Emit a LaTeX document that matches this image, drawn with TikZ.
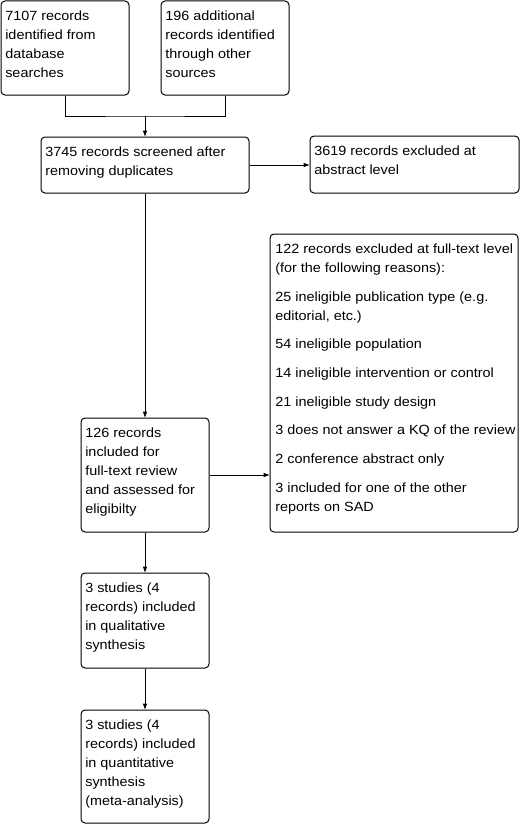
\documentclass[tikz,border=0pt]{standalone}
\usepackage{fontspec}
\setmainfont{Liberation Sans}[FakeStretch=1.08]
\usetikzlibrary{fit,arrows.meta}
\begin{document}
\begin{tikzpicture}[x=0.75pt,y=-0.75pt,
  box/.style={draw, line width=0.75pt, rounded corners=3pt, inner sep=0pt},
  txt/.style={anchor=north west, inner sep=0pt, align=left,
    font=\fontsize{10pt}{14.3pt}\selectfont},
  ln/.style={line width=0.75pt},
  arr/.style={line width=0.75pt, -{Triangle[length=4.5pt,width=3pt]}}]
\useasboundingbox (0,0) rectangle (522,824);
% boxes
\node[box, fit={(1,1)(129,95)}] (A) {};
\node[box, fit={(161,1)(289,95)}] (B) {};
\node[box, fit={(41,137)(249,193)}] (C) {};
\node[box, fit={(310,136)(519,193)}] (D) {};
\node[box, fit={(270,234)(518,532)}] (E) {};
\node[box, fit={(81,418)(209,532)}] (F) {};
\node[box, fit={(81,573)(209,668)}] (G) {};
\node[box, fit={(81,710)(209,823)}] (H) {};
% texts
\def\gap{[7.2pt]}
\node[txt] (tA) at ([shift={(3.4pt,-4.65pt)}]A.north west)
  {\strut 7107 records\\identified from\\database\\searches};
\node[txt] (tB) at ([shift={(3.4pt,-4.65pt)}]B.north west)
  {\strut 196 additional\\records identified\\through other\\sources};
\node[txt] (tC) at ([shift={(3.4pt,-4.65pt)}]C.north west)
  {\strut 3745 records screened after\\removing duplicates};
\node[txt] (tD) at ([shift={(3.4pt,-4.65pt)}]D.north west)
  {\strut 3619 records excluded at\\abstract level};
\node[txt] (tE) at ([shift={(4.2pt,-4.65pt)}]E.north west)
  {\strut 122 records excluded at full-text level\\(for the following reasons):\\[7.2pt]
   25 ineligible publication type (e.g.\\editorial, etc.)\\[7.2pt]
   54 ineligible population\\[7.2pt]
   14 ineligible intervention or control\\[7.2pt]
   21 ineligible study design\\[7.2pt]
   3 does not answer a KQ of the review\\[7.2pt]
   2 conference abstract only\\[7.2pt]
   3 included for one of the other\\reports on SAD};
\node[txt] (tF) at ([shift={(3.4pt,-4.65pt)}]F.north west)
  {\strut 126 records\\included for\\full-text review\\and assessed for\\eligibilty};
\node[txt] (tG) at ([shift={(3.4pt,-4.65pt)}]G.north west)
  {\strut 3 studies (4\\records) included\\in qualitative\\synthesis};
\node[txt] (tH) at ([shift={(3.4pt,-4.65pt)}]H.north west)
  {\strut 3 studies (4\\records) included\\in quantitative\\synthesis\\(meta-analysis)};
% connectors
\coordinate (m) at (145,116);
\draw[ln] (A.south) |- (m) -| (B.south);
\draw[arr] (m) -- (m |- C.north);
\draw[arr] (C.east) -- (C.east -| D.west);
\draw[arr] (C.south) -- (F.north);
\draw[arr] (F.east) -- (F.east -| E.west);
\draw[arr] (F.south) -- (G.north);
\draw[arr] (G.south) -- (H.north);
\end{tikzpicture}
\end{document}
